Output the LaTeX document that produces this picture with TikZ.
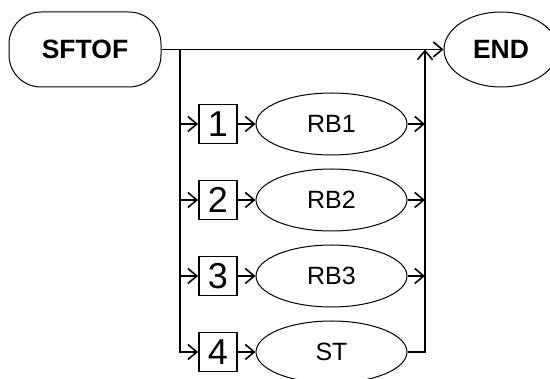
\documentclass[tikz,border=0pt]{standalone}
\usepackage{fontspec}
\setmainfont{Liberation Sans}
\usetikzlibrary{shapes.geometric,arrows.meta}
\tikzset{
  conn/.style={line width=1.8pt},
  arr/.style={conn,-{Straight Barb[length=9pt,width=15pt,line width=1.6pt]}},
  termbox/.style={draw,line width=1pt,rounded corners=32pt,minimum width=152pt,minimum height=75pt,inner sep=0pt,font=\fontsize{26.5}{30}\selectfont\bfseries},
  endell/.style={draw,ellipse,line width=1pt,minimum width=114pt,minimum height=75pt,inner sep=0pt,font=\fontsize{26.5}{30}\selectfont\bfseries},
  numbox/.style={draw,line width=1.8pt,minimum width=38pt,minimum height=39pt,inner sep=0pt,font=\fontsize{36}{40}\selectfont},
  procell/.style={draw,ellipse,line width=1pt,minimum width=151pt,minimum height=62pt,inner sep=0pt,font=\fontsize{25}{28}\selectfont}
}
\begin{document}
\begin{tikzpicture}[x=1pt,y=-1pt]
\useasboundingbox (0,0) rectangle (550,379);
\clip (0,0) rectangle (550,379);
\node[termbox] (sftof) at (85,49.5) {SFTOF};
\node[endell] (endn) at (501,49.5) {END};
\coordinate (jl) at (180,49.5);
\coordinate (jr) at (425,49.5);
\node[numbox] (b1) at (218,124) {1};
\node[numbox] (b2) at (218,200) {2};
\node[numbox] (b3) at (218,276) {3};
\node[numbox] (b4) at (218,352) {4};
\node[procell] (e1) at (331.5,124) {RB1};
\node[procell] (e2) at (331.5,200) {RB2};
\node[procell] (e3) at (331.5,276) {RB3};
\node[procell] (st) at (331.5,352) {ST};
% main line
\draw[arr] (sftof.east) -- (endn.west);
% left bus
\draw[arr] (jl) |- (b4.west);
\foreach \i in {1,2,3}{
  \draw[arr] (b\i.west -| jl) -- (b\i.west);
}
\foreach \b/\e in {b1/e1,b2/e2,b3/e3,b4/st}{
  \draw[arr] (\b.east) -- (\e.west);
}
\foreach \e in {e1,e2,e3}{
  \draw[arr] (\e.east) -- (\e.east -| jr);
}
% right bus
\draw[arr] (st.east) -| (jr);
\end{tikzpicture}
\end{document}
